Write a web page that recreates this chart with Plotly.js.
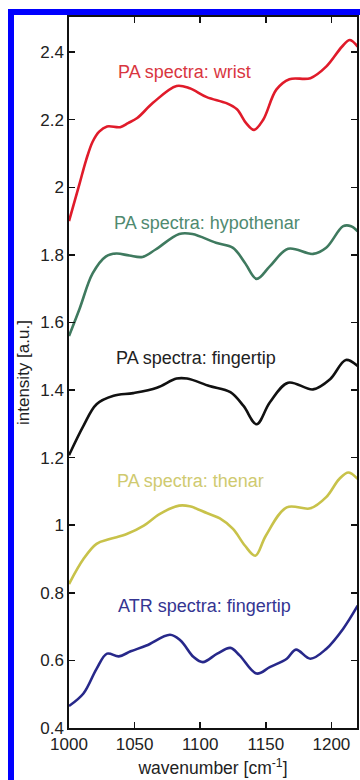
<!DOCTYPE html>
<html>
<head>
<meta charset="utf-8">
<script src="https://cdn.plot.ly/plotly-3.0.1.min.js"></script>
<style>
  html, body { margin: 0; padding: 0; background: #fff; }
  #chart { width: 360px; height: 780px; }
  #frame { position: absolute; left: 8px; top: 9px; width: 420px; height: 820px;
           border-left: 6px solid #0000ff; border-top: 6px solid #0000ff;
           pointer-events: none; box-sizing: border-box; }
</style>
</head>
<body>
<div id="chart"></div>
<div id="frame"></div>
<script>
// Wavenumber [cm^-1] and intensity [a.u.]
const wristX = [1000, 1008, 1013, 1018, 1023, 1029, 1039, 1045, 1052, 1064, 1082, 1092, 1105, 1120, 1128, 1135, 1141, 1148, 1158, 1168, 1184, 1196, 1208, 1214, 1220];
const wristY = [1.90, 2.01, 2.08, 2.135, 2.165, 2.18, 2.178, 2.19, 2.205, 2.25, 2.30, 2.293, 2.267, 2.249, 2.231, 2.19, 2.17, 2.20, 2.289, 2.32, 2.323, 2.357, 2.416, 2.436, 2.416];

const hypoX = [1000, 1008, 1018, 1028, 1036, 1046, 1056, 1066, 1084, 1094, 1112, 1125, 1134, 1143, 1153, 1167, 1186, 1196, 1209, 1215, 1220];
const hypoY = [1.56, 1.64, 1.745, 1.795, 1.804, 1.798, 1.794, 1.816, 1.862, 1.862, 1.836, 1.821, 1.777, 1.729, 1.766, 1.818, 1.803, 1.821, 1.885, 1.885, 1.87];

const fingerX = [1000, 1011, 1021, 1034, 1049, 1067, 1082, 1090, 1107, 1123, 1133, 1143, 1153, 1167, 1186, 1199, 1211, 1220];
const fingerY = [1.207, 1.294, 1.358, 1.383, 1.391, 1.407, 1.434, 1.434, 1.412, 1.394, 1.353, 1.299, 1.363, 1.422, 1.402, 1.432, 1.489, 1.471];

const thenarX = [1000, 1011, 1021, 1031, 1044, 1057, 1069, 1084, 1092, 1105, 1115, 1125, 1134, 1142, 1150, 1166, 1184, 1196, 1206, 1213, 1220];
const thenarY = [0.826, 0.90, 0.945, 0.959, 0.974, 0.999, 1.033, 1.058, 1.056, 1.036, 1.02, 0.989, 0.94, 0.91, 0.969, 1.053, 1.05, 1.083, 1.137, 1.156, 1.137];

const atrX = [1000, 1011, 1021, 1029, 1038, 1047, 1059, 1077, 1085, 1095, 1102, 1113, 1123, 1130, 1143, 1153, 1166, 1173, 1184, 1196, 1209, 1220];
const atrY = [0.465, 0.502, 0.575, 0.62, 0.612, 0.627, 0.644, 0.676, 0.659, 0.61, 0.595, 0.62, 0.637, 0.615, 0.561, 0.58, 0.605, 0.632, 0.605, 0.634, 0.694, 0.762];

const seriesNames = ["PA spectra: wrist", "PA spectra: hypothenar", "PA spectra: fingertip", "PA spectra: thenar", "ATR spectra: fingertip"];
const xTicks = [1000, 1050, 1100, 1150, 1200];
const yTicks = [0.4, 0.6, 0.8, 1, 1.2, 1.4, 1.6, 1.8, 2, 2.2, 2.4];

const lineColors = ["#e01b2a", "#3f7a5f", "#111111", "#c8c24a", "#27288a"];
const textColors = ["#d9363f", "#4f8a70", "#222222", "#cfca70", "#343592"];
const labelPos = [[1088, 2.342], [1105.5, 1.893], [1097, 1.496], [1092.5, 1.13], [1103.5, 0.76]];

const xs = [wristX, hypoX, fingerX, thenarX, atrX];
const ys = [wristY, hypoY, fingerY, thenarY, atrY];

const font = "'Liberation Sans', Arial, Helvetica, sans-serif";

const traces = xs.map((x, i) => ({
  x: x, y: ys[i], name: seriesNames[i], type: "scatter", mode: "lines",
  line: { color: lineColors[i], width: 2.6, shape: "spline", smoothing: 1 },
  showlegend: false, hoverinfo: "skip"
}));

const annotations = seriesNames.map((t, i) => ({
  text: t, x: labelPos[i][0], y: labelPos[i][1], xref: "x", yref: "y",
  showarrow: false, font: { family: font, size: 18, color: textColors[i] },
  xanchor: "center", yanchor: "middle"
}));
annotations.push({
  text: "intensity [a.u.]", textangle: -90, xref: "paper", yref: "paper",
  x: -0.158, y: 0.5, xanchor: "center", yanchor: "middle", showarrow: false,
  font: { family: font, size: 17, color: "#222" }
});

const axisCommon = {
  showline: true, linecolor: "#111", linewidth: 1.6, mirror: "ticks",
  ticks: "inside", ticklen: 6, tickwidth: 1.5, tickcolor: "#111",
  showgrid: false, zeroline: false,
  tickfont: { family: font, size: 17, color: "#222" }
};

const layout = {
  width: 360, height: 780,
  margin: { l: 69, r: 3, t: 17, b: 52 },
  paper_bgcolor: "#fff", plot_bgcolor: "#fff",
  xaxis: Object.assign({}, axisCommon, {
    range: [1000, 1219.5], tickvals: xTicks, ticktext: xTicks.map(String),
    title: { text: "wavenumber [cm<sup>-1</sup>]", font: { family: font, size: 17.5, color: "#222" }, standoff: 9 }
  }),
  yaxis: Object.assign({}, axisCommon, {
    range: [0.4, 2.504], tickvals: yTicks, ticktext: yTicks.map(String)
  }),
  annotations: annotations
};

Plotly.newPlot("chart", traces, layout, { displayModeBar: false, staticPlot: true });
</script>
</body>
</html>
